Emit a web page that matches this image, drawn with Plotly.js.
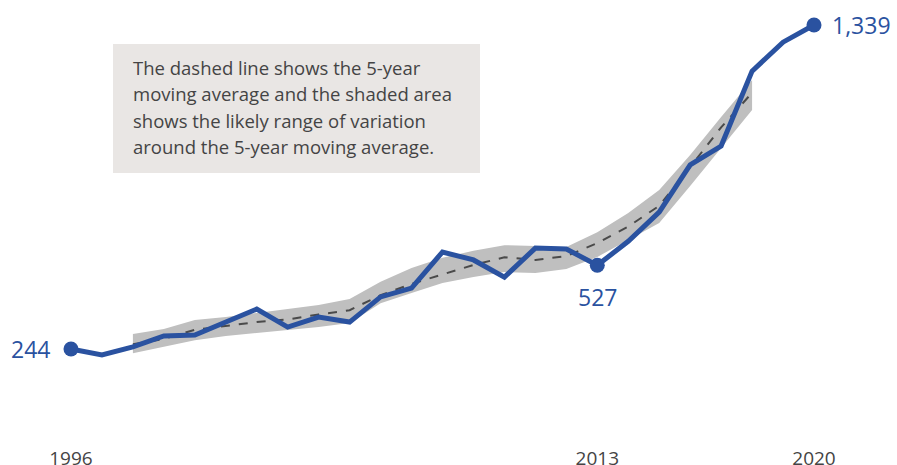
<!DOCTYPE html>
<html>
<head>
<meta charset="utf-8">
<script src="https://cdn.plot.ly/plotly-3.0.1.min.js"></script>
<style>
html,body{margin:0;padding:0;background:#fff;}
#chart{width:897px;height:465px;}
</style>
</head>
<body>
<div id="chart"></div>
<script>
const years = [1996,1997,1998,1999,2000,2001,2002,2003,2004,2005,2006,2007,2008,2009,2010,2011,2012,2013,2014,2015,2016,2017,2018,2019,2020];
const values = [244,224,251,288,291,335,379,318,352,335,420,450,572,545,487,585,582,527,608,707,866,930,1183,1281,1339];

const maYears = [1998,1999,2000,2001,2002,2003,2004,2005,2006,2007,2008,2009,2010,2011,2012,2013,2014,2015,2016,2017,2018];
const maValues = [260,278,309,322,335,344,361,375,426,464,495,528,554,545,558,602,658,728,859,993,1110];
const bandUpper = [295,312,342,352,366,379,393,413,471,518,552,576,595,592,589,639,704,781,900,1028,1153];
const bandLower = [230,251,274,288,298,308,318,332,399,433,467,487,504,501,514,555,612,670,795,923,1052];

const highlightYears = [1996,2013,2020];
const tickYears = [1996,2013,2020];
const tickLabels = ['1996','2013','2020'];
const noteLines = [
  'The dashed line shows the 5-year',
  'moving average and the shaded area',
  'shows the likely range of variation',
  'around the 5-year moving average.'
];

const blue = '#2a52a0';
const H = 445;
const hlValues = highlightYears.map(y => values[years.indexOf(y)]);
const fmt = v => v.toLocaleString('en-US');

const traces = [
  {x: maYears, y: bandLower, mode: 'lines', line: {width: 0, color: 'rgba(0,0,0,0)'}, hoverinfo: 'skip', showlegend: false},
  {x: maYears, y: bandUpper, mode: 'lines', fill: 'tonexty', fillcolor: '#bfbfbf', line: {width: 0, color: 'rgba(0,0,0,0)'}, hoverinfo: 'skip', showlegend: false},
  {x: maYears, y: maValues, mode: 'lines', line: {color: '#4a4a4a', width: 2, dash: 'dash'}, showlegend: false},
  {x: years, y: values, mode: 'lines', line: {color: blue, width: 5}, showlegend: false},
  {x: highlightYears, y: hlValues, mode: 'markers', marker: {color: blue, size: 15}, showlegend: false}
];

const fam = 'Open Sans, Noto Sans, sans-serif';
const labelFont = {family: fam, size: 23, color: blue};
const annotations = [
  {x: highlightYears[0], y: hlValues[0], text: fmt(hlValues[0]), showarrow: false, xanchor: 'right', yanchor: 'middle', xshift: -19, font: labelFont},
  {x: highlightYears[1], y: hlValues[1], text: fmt(hlValues[1]), showarrow: false, xanchor: 'center', yanchor: 'middle', yshift: -32, font: labelFont},
  {x: highlightYears[2], y: hlValues[2], text: fmt(hlValues[2]), showarrow: false, xanchor: 'left', yanchor: 'middle', xshift: 16, font: labelFont}
];
noteLines.forEach((t, i) => {
  annotations.push({xref: 'paper', yref: 'paper', x: 131/897, y: 1 - (67 + i * 26.5) / H, text: t, showarrow: false,
    xanchor: 'left', yanchor: 'middle', align: 'left', font: {family: fam, size: 18.5, color: '#444'}});
});

const layout = {
  width: 897, height: 465,
  margin: {l: 0, r: 0, t: 0, b: 20},
  paper_bgcolor: '#fff', plot_bgcolor: '#fff',
  showlegend: false,
  xaxis: {range: [1993.707, 2022.681], showgrid: false, zeroline: false, showline: false,
          tickvals: tickYears, ticktext: tickLabels, ticks: '',
          tickfont: {family: fam, size: 19, color: '#444'}},
  yaxis: {range: [-80.4, 1423.5], showgrid: false, zeroline: false, showline: false, showticklabels: false},
  shapes: [
    {type: 'rect', xref: 'paper', yref: 'paper', x0: 113/897, x1: 480/897, y0: 1 - 173/H, y1: 1 - 44/H,
     fillcolor: '#e9e6e4', line: {width: 0}, layer: 'below'}
  ],
  annotations: annotations
};

Plotly.newPlot('chart', traces, layout, {staticPlot: true, displayModeBar: false});
</script>
</body>
</html>
